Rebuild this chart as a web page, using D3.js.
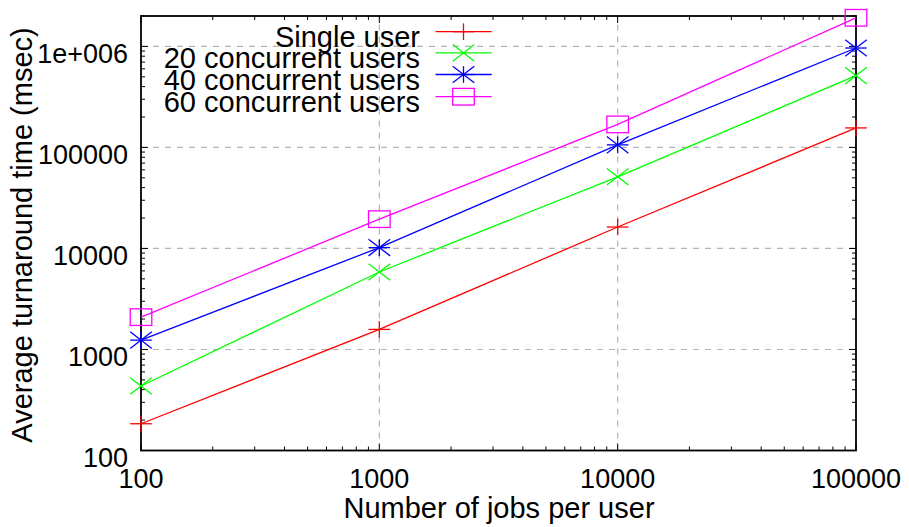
<!DOCTYPE html>
<html><head><meta charset="utf-8">
<script src="https://cdn.jsdelivr.net/npm/d3@7"></script>
<style>body{margin:0;background:#fff}svg{display:block}text{font-family:"Liberation Sans",Arial,sans-serif;fill:#000}</style>
</head><body>
<script>
const jobs = [100, 1000, 10000, 100000];
const singleUser = [184, 1580, 16300, 156000];
const users20 = [435, 5850, 51200, 514000];
const users40 = [1237, 10200, 106000, 964000];
const users60 = [2090, 19500, 169000, 1920000];
const seriesNames = ["Single user", "20 concurrent users", "40 concurrent users", "60 concurrent users"];
const seriesColors = ["#ff0000", "#00ff00", "#0000ff", "#ff00ff"];
const seriesMarkers = ["plus", "cross", "star", "square"];
const xTicks = [100, 1000, 10000, 100000];
const yTicks = [100, 1000, 10000, 100000, 1000000];
const yTickLabels = ["100", "1000", "10000", "100000", "1e+006"];

const W = 909, H = 527;
const m = {l: 141, r: 909 - 856, t: 16, b: 527 - 450.5};
const svg = d3.select("body").append("svg").attr("width", W).attr("height", H);
const x = d3.scaleLog().domain([100, 100000]).range([m.l, W - m.r]);
const y = d3.scaleLog().domain([100, 2000000]).range([H - m.b, m.t]);
const x0 = x.range()[0], x1 = x.range()[1], y0 = y.range()[0], y1 = y.range()[1];

// grid
const g = svg.append("g");
xTicks.slice(1, -1).forEach(v => g.append("line").attr("x1", x(v)).attr("x2", x(v)).attr("y1", y0).attr("y2", y1)
  .attr("stroke", "#b4b4b4").attr("stroke-width", 1.2).attr("stroke-dasharray", "6,6"));
yTicks.slice(1).forEach(v => g.append("line").attr("x1", x0).attr("x2", x1).attr("y1", y(v)).attr("y2", y(v))
  .attr("stroke", "#b4b4b4").attr("stroke-width", 1.2).attr("stroke-dasharray", "6,6"));

// minor ticks
function minors(dom) {
  const out = [];
  for (let d = dom[0]; d < dom[1]; d *= 10) for (let k = 2; k <= 9; k++) if (d * k <= dom[1]) out.push(d * k);
  return out;
}
const ax = svg.append("g").attr("stroke", "#000").attr("stroke-width", 1);
const xMin = minors([100, 100000]);
const yMin = minors([100, 2000000]);
xTicks.forEach(v => { ax.append("line").attr("x1", x(v)).attr("x2", x(v)).attr("y1", y0).attr("y2", y0 - 7);
  ax.append("line").attr("x1", x(v)).attr("x2", x(v)).attr("y1", y1).attr("y2", y1 + 7); });
xMin.forEach(v => { ax.append("line").attr("x1", x(v)).attr("x2", x(v)).attr("y1", y0).attr("y2", y0 - 4);
  ax.append("line").attr("x1", x(v)).attr("x2", x(v)).attr("y1", y1).attr("y2", y1 + 4); });
yTicks.forEach(v => { ax.append("line").attr("y1", y(v)).attr("y2", y(v)).attr("x1", x0).attr("x2", x0 + 7);
  ax.append("line").attr("y1", y(v)).attr("y2", y(v)).attr("x1", x1).attr("x2", x1 - 7); });
yMin.forEach(v => { ax.append("line").attr("y1", y(v)).attr("y2", y(v)).attr("x1", x0).attr("x2", x0 + 4);
  ax.append("line").attr("y1", y(v)).attr("y2", y(v)).attr("x1", x1).attr("x2", x1 - 4); });

// tick labels
xTicks.forEach(v => svg.append("text").attr("x", x(v)).attr("y", 488).attr("text-anchor", "middle")
  .attr("font-size", 27).text(String(v)));
yTicks.forEach((v, i) => svg.append("text").attr("x", 128).attr("y", y(v) + 16.5).attr("text-anchor", "end")
  .attr("font-size", 27).text(yTickLabels[i]));

// axis labels
svg.append("text").attr("x", 499).attr("y", 518).attr("text-anchor", "middle").attr("font-size", 29)
  .text("Number of jobs per user");
svg.append("text").attr("transform", "translate(32,235) rotate(-90)").attr("text-anchor", "middle").attr("font-size", 29)
  .text("Average turnaround time (msec)");

// frame
svg.append("rect").attr("x", x0).attr("y", y1).attr("width", x1 - x0).attr("height", y0 - y1)
  .attr("fill", "none").attr("stroke", "#000").attr("stroke-width", 1.8);

// markers
const hw = 10.8, hh = 8.3;
function marker(sel, type, cx, cy, color) {
  const gg = sel.append("g").attr("stroke", color).attr("stroke-width", 1.3).attr("fill", "none");
  const ln = (a, b, c, d) => gg.append("line").attr("x1", cx + a).attr("y1", cy + b).attr("x2", cx + c).attr("y2", cy + d);
  if (type === "plus" || type === "star") { ln(-hw, 0, hw, 0); ln(0, -hh, 0, hh); }
  if (type === "cross" || type === "star") { ln(-hw, -hh, hw, hh); ln(-hw, hh, hw, -hh); }
  if (type === "square") gg.append("rect").attr("x", cx - hw).attr("y", cy - hh).attr("width", 2 * hw).attr("height", 2 * hh);
}

const allSeries = [singleUser, users20, users40, users60];
const line = d3.line().x(d => x(d[0])).y(d => y(d[1]));
allSeries.forEach((vals, i) => {
  const pts = jobs.map((j, k) => [j, vals[k]]);
  svg.append("path").attr("d", line(pts)).attr("fill", "none").attr("stroke", seriesColors[i]).attr("stroke-width", 1.3);
  pts.forEach(p => marker(svg, seriesMarkers[i], x(p[0]), y(p[1]), seriesColors[i]));
});

// legend
const legendRows = [31.7, 52.9, 74.5, 96.7];
seriesNames.forEach((n, i) => {
  const ly = legendRows[i];
  svg.append("text").attr("x", 420).attr("y", ly + 15.3).attr("text-anchor", "end").attr("font-size", 29).text(n);
  svg.append("line").attr("x1", 435.5).attr("x2", 491.7).attr("y1", ly).attr("y2", ly).attr("stroke", seriesColors[i]).attr("stroke-width", 1.3);
  marker(svg, seriesMarkers[i], 463.5, ly, seriesColors[i]);
});
</script>
</body></html>
